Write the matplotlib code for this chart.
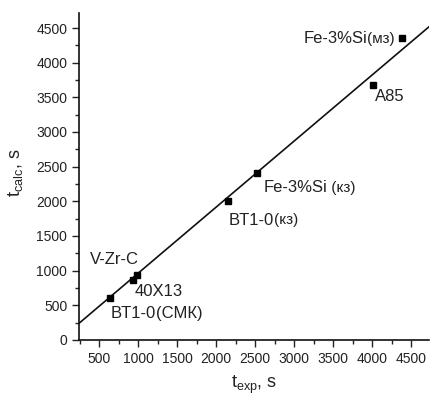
import matplotlib
matplotlib.use("Agg")
import matplotlib.pyplot as plt
from matplotlib.ticker import MultipleLocator

plt.rcParams["font.family"] = ["Liberation Sans", "DejaVu Sans"]
plt.rcParams["mathtext.fontset"] = "custom"
plt.rcParams["mathtext.rm"] = "Liberation Sans"
plt.rcParams["mathtext.it"] = "Liberation Sans"

# Experimental vs calculated times, s
t_exp = [640, 935, 985, 2150, 2520, 4010, 4380]
t_calc = [605, 865, 930, 2000, 2410, 3680, 4360]
names = ["BT1-0", "40X13", "V-Zr-C", "BT1-0", "Fe-3%Si", "A85", "Fe-3%Si"]
suffix = ["(СМК)", "", "", "(кз)", " (кз)", "", "(мз)"]

# fitted line end points
fit_x = [245, 4730]
fit_y = [240, 4520]

# label offsets in pixels from each point (dx, dy), horizontal alignment
label_off = [(1, -16), (2, -12), (-47, 16), (1, -19), (7, -15), (2, -12), (-7, -1)]
label_ha = ["left", "left", "left", "left", "left", "left", "right"]
suffix_fs = [12, 11, 11, 11, 11, 11, 11]

fig = plt.figure(figsize=(4.30, 3.97), dpi=100)
ax = fig.add_axes([0.184, 0.144, 0.814, 0.823])

ax.plot(fit_x, fit_y, color="#111111", lw=1.2)
ax.plot(t_exp, t_calc, "s", color="#000000", ms=5)

fs_main = 12
for i in range(len(t_exp)):
    dx, dy = label_off[i]
    if label_ha[i] == "right":
        # draw suffix first, then main name on its left
        t2 = ax.annotate(suffix[i], (t_exp[i], t_calc[i]), xytext=(dx, dy),
                         textcoords="offset pixels", ha="right", va="center",
                         fontsize=suffix_fs[i], color="#222222")
        ax.annotate(names[i], xy=(0, 0.5), xycoords=t2, ha="right", va="center",
                    fontsize=fs_main, color="#222222")
    else:
        t1 = ax.annotate(names[i], (t_exp[i], t_calc[i]), xytext=(dx, dy),
                         textcoords="offset pixels", ha="left", va="center",
                         fontsize=fs_main, color="#222222")
        if suffix[i]:
            ax.annotate(suffix[i], xy=(1, 0.5), xycoords=t1, ha="left", va="center",
                        fontsize=suffix_fs[i], color="#222222")

ax.set_xlim(245, 4730)
ax.set_ylim(0, 4716)
ax.xaxis.set_major_locator(MultipleLocator(500))
ax.xaxis.set_minor_locator(MultipleLocator(250))
ax.yaxis.set_major_locator(MultipleLocator(500))
ax.yaxis.set_minor_locator(MultipleLocator(250))
ax.tick_params(which="major", direction="out", length=5, width=1, labelsize=10,
               colors="#222222")
ax.tick_params(which="minor", direction="out", length=3, width=1, colors="#222222")

for s in ["top", "right"]:
    ax.spines[s].set_visible(False)
for s in ["left", "bottom"]:
    ax.spines[s].set_linewidth(1.2)
    ax.spines[s].set_color("#111111")

ax.set_xlabel(r"$\mathregular{t_{exp}}$, s", fontsize=13, color="#222222", labelpad=6)
ax.set_ylabel(r"$\mathregular{t_{calc}}$, s", fontsize=13, color="#222222")
ax.yaxis.set_label_coords(-0.155, 0.51)

fig.savefig("out.png", dpi=100)
